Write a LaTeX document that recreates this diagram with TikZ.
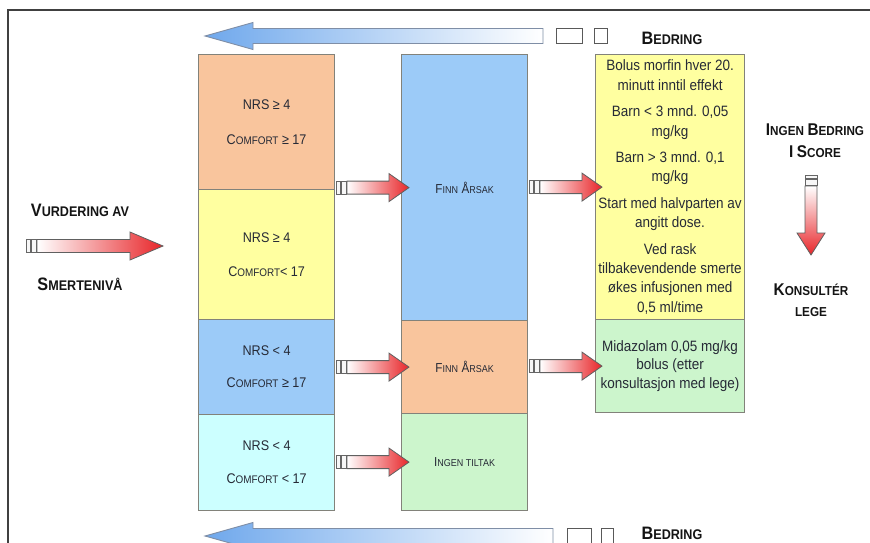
\documentclass[tikz,border=0pt]{standalone}
\usepackage{fontspec}
\setmainfont[FakeStretch=0.9]{Liberation Sans}
\usetikzlibrary{calc}
\definecolor{cOrange}{HTML}{F9C59D}
\definecolor{cYellow}{HTML}{FFFFA0}
\definecolor{cBlue}{HTML}{9CCBF8}
\definecolor{cCyan}{HTML}{CCFFFF}
\definecolor{cGreen}{HTML}{CCF5CC}
\definecolor{cBorder}{HTML}{82827A}
\definecolor{cText}{HTML}{262A36}
\definecolor{cRed}{HTML}{E8262A}
\definecolor{cArrBlue}{HTML}{6FA8EC}
\definecolor{cArrEdge}{HTML}{7F8EA6}
\newcommand\scx[4]{{\fontsize{#1}{#1}\selectfont #3}{\fontsize{#2}{#2}\selectfont #4}}
\begin{document}
\begin{tikzpicture}[x=1pt,y=-1pt,
  box/.style={draw=cBorder, line width=1.2pt, anchor=north west, inner sep=0pt, align=center, text=cText, font=\fontsize{14}{17}\selectfont},
  rbox/.style={box, font=\fontsize{15}{19.2}\selectfont},
  headtxt/.style={align=center, text=black!92, inner sep=0pt, font=\bfseries\fontsize{14}{22}\selectfont},
  stub/.style={draw=gray!80!black, fill=gray!6, line width=0.8pt},
  redarr/.style={draw=gray!75!black, line width=0.8pt, left color=white, right color=cRed},
  redarrV/.style={draw=gray!75!black, line width=0.8pt, top color=white, bottom color=cRed},
  bluearr/.style={draw=cArrEdge, line width=0.9pt, left color=cArrBlue, right color=white},
  bstub/.style={draw=gray!70!black, fill=white, line width=0.8pt},
  pics/rarrow/.style n args={2}{code={
    \shadedraw[redarr] (0,0) -- (-#1,-14) -- (-#1,-6.5) -- (-#2,-6.5) -- (-#2,6.5) -- (-#1,6.5) -- (-#1,14) -- cycle;
    \draw[stub] (-#2-1,-6.5) rectangle (-#2-6,6.5);
    \draw[stub] (-#2-7,-6.5) rectangle (-#2-11,6.5);
  }},
]
\useasboundingbox (0,0) rectangle (870,543);
\fill[white] (0,0) rectangle (870,543);
\draw[line width=2.2pt, black!75] (8,543) -- (8,10) -- (870,10);

% left column
\node[box, fill=cOrange, minimum width=136pt, minimum height=135pt] (L1) at (198,54)
  {NRS ≥ 4\\[18pt]\scx{14}{11}{C}{OMFORT} ≥ 17};
\node[box, fill=cYellow, minimum width=136pt, minimum height=130pt] (L2) at (198,189)
  {NRS ≥ 4\\[17pt]\scx{14}{11}{C}{OMFORT}< 17};
\node[box, fill=cBlue, minimum width=136pt, minimum height=95pt] (L3) at (198,319)
  {NRS < 4\\[15pt]\scx{14}{11}{C}{OMFORT} ≥ 17};
\node[box, fill=cCyan, minimum width=136pt, minimum height=96pt] (L4) at (198,414)
  {NRS < 4\\[16pt]\scx{14}{11}{C}{OMFORT} < 17};

% middle column
\node[box, fill=cBlue, minimum width=126pt, minimum height=266pt] (M1) at (401,54)
  {\scx{13}{10}{F}{INN} \scx{13}{10}{Å}{RSAK}};
\node[box, fill=cOrange, minimum width=126pt, minimum height=93pt] (M2) at (401,320)
  {\scx{13}{10}{F}{INN} \scx{13}{10}{Å}{RSAK}};
\node[box, fill=cGreen, minimum width=126pt, minimum height=97pt] (M3) at (401,413)
  {\scx{13}{10}{I}{NGEN TILTAK}};

% right column
\node[rbox, fill=cYellow, minimum width=149pt, minimum height=265pt] (R1) at (595,54)
  {Bolus morfin hver 20.\\minutt inntil effekt\\[7.5pt]Barn < 3 mnd. 0,05\\mg/kg\\[7.5pt]Barn > 3 mnd. 0,1\\mg/kg\\[7.5pt]Start med halvparten av\\angitt dose.\\[7.5pt]Ved rask\\tilbakevendende smerte\\økes infusjonen med\\0,5 ml/time};
\node[box, fill=cGreen, font=\fontsize{15}{18.5}\selectfont, minimum width=149pt, minimum height=93pt] (R2) at (595,319)
  {Midazolam 0,05 mg/kg\\bolus (etter\\konsultasjon med lege)};

% headings
\node[headtxt] (bedtop) at (672,38) {\scx{18}{14}{B}{EDRING}};
\node[headtxt] (bedbot) at (672,533) {\scx{18}{14}{B}{EDRING}};
\node[headtxt] (vurd) at (80,210) {\scx{18}{14}{V}{URDERING AV}};
\node[headtxt] (smerte) at (80,284) {\scx{18}{14}{S}{MERTENIVÅ}};
\node[headtxt] (ingen) at (815,130) {\scx{17}{13}{I}{NGEN} \scx{17}{13}{B}{EDRING}};
\node[headtxt] (iscore) at (815,152) {\scx{17}{13}{I}{} \scx{17}{13}{S}{CORE}};
\node[headtxt] (kons) at (811,290) {\scx{17}{13}{K}{ONSULTÉR}};
\node[headtxt] (lege) at (811,312) {\scx{13}{13}{}{LEGE}};

% blue arrows
\shadedraw[bluearr] (205,36) -- (253,22.5) -- (253,28.5) -- (543,28.5) -- (543,43.5) -- (253,43.5) -- (253,49.5) -- cycle;
\draw[bstub] (556,28.5) rectangle (582,43.5);
\draw[bstub] (594,28.5) rectangle (607,43.5);
\shadedraw[bluearr] (205,536) -- (253,522.5) -- (253,528.5) -- (553,528.5) -- (553,543.5) -- (253,543.5) -- (253,549.5) -- cycle;
\draw[bstub] (567,528.5) rectangle (591,543.5);
\draw[bstub] (601,528.5) rectangle (613,543.5);

% red arrows
\coordinate (bigtip) at (163,246);
\pic at (bigtip) {rarrow={33}{126}};
\pic at ($(M1.west)+(8,0)$) {rarrow={20}{62}};
\pic at ($(R1.west)+(7,0)$) {rarrow={20}{62}};
\pic at ($(M2.west)+(8,0)$) {rarrow={20}{62}};
\pic at ($(R2.west)+(7,0)$) {rarrow={20}{62}};
\pic at ($(M3.west)+(8,0)$) {rarrow={20}{62}};

% down arrow
\coordinate (downtip) at (811,255);
\shadedraw[redarrV] (downtip) -- ++(-14,-22) -- ++(8,0) -- ++(0,-47) -- ++(12,0) -- ++(0,47) -- ++(8,0) -- cycle;
\draw[stub] ($(downtip)+(-6,-70)$) rectangle ($(downtip)+(6,-76)$);
\draw[stub] ($(downtip)+(-6,-77)$) rectangle ($(downtip)+(6,-80)$);
\end{tikzpicture}
\end{document}
